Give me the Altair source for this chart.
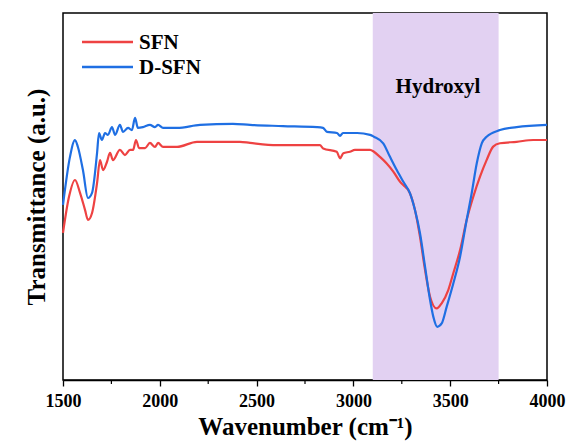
import altair as alt
import pandas as pd

# ---- data ----
series = ["SFN", "D-SFN"]
colors = ["#ee4242", "#1f6fe3"]

wn_sfn = [1500, 1531, 1562, 1588, 1614, 1629, 1650, 1676, 1691, 1707, 1727, 1743, 1758,
          1794, 1820, 1846, 1862, 1877, 1893, 1924, 1949, 1975, 1991, 2017, 2089, 2192,
          2378, 2414, 2466, 2605, 2724, 2827, 2844, 2914, 2931, 2948, 2982, 3008, 3086,
          3106, 3137, 3172, 3206, 3241, 3266, 3283, 3318, 3344, 3370, 3396, 3430, 3456,
          3490, 3516, 3551, 3585, 3619, 3654, 3688, 3722, 3757, 3843, 3929, 4000]
t_sfn = [40.1, 49.9, 54.5, 51.0, 46.3, 43.6, 45.5, 53.7, 59.9, 57.2, 59.4, 61.9, 59.9,
         62.7, 61.3, 62.7, 62.7, 65.4, 63.2, 63.2, 64.6, 63.5, 64.6, 63.5, 63.5, 64.9,
         64.9, 64.9, 64.6, 64.0, 64.0, 64.0, 63.1, 62.2, 60.4, 61.8, 62.2, 62.7, 62.7,
         62.2, 60.8, 59.0, 56.8, 54.0, 52.7, 51.8, 46.3, 39.0, 30.0, 22.7, 19.5, 20.9,
         24.5, 29.1, 35.4, 43.6, 49.9, 55.4, 59.9, 63.6, 64.5, 64.9, 65.4, 65.4]

wn_dsfn = [1500, 1536, 1562, 1577, 1603, 1629, 1650, 1676, 1686, 1701, 1717, 1732, 1753,
           1769, 1794, 1810, 1836, 1856, 1872, 1887, 1913, 1949, 1975, 1991, 2017, 2089,
           2208, 2378, 2466, 2636, 2812, 2843, 2864, 2915, 2931, 2946, 3019, 3086, 3106,
           3154, 3189, 3224, 3258, 3292, 3318, 3344, 3370, 3396, 3413, 3433, 3456, 3482,
           3516, 3551, 3585, 3611, 3637, 3663, 3688, 3757, 3843, 4000]
t_dsfn = [47.7, 60.8, 65.4, 63.5, 57.2, 49.6, 51.0, 61.9, 67.3, 65.4, 67.3, 66.8, 68.9,
          66.8, 69.5, 67.6, 68.7, 68.1, 71.4, 68.7, 68.9, 69.5, 68.9, 69.5, 68.7, 68.7,
          69.5, 69.8, 69.5, 69.2, 68.9, 68.7, 67.6, 67.3, 66.5, 67.3, 67.3, 66.8, 66.3,
          64.5, 60.8, 57.2, 54.0, 50.9, 46.3, 40.0, 30.9, 21.8, 17.2, 14.5, 15.4, 20.0,
          26.3, 33.6, 43.6, 50.9, 59.0, 64.5, 66.3, 68.1, 68.9, 69.5]

band_start = [3100]
band_end = [3750]
band_label = ["Hydroxyl"]
band_label_x = [3437]
band_label_y = [79.8]

x_domain = [1500, 4000]
y_domain = [0, 100]
major_ticks = [1500, 2000, 2500, 3000, 3500, 4000]
minor_ticks = [1750, 2250, 2750, 3250, 3750]

# ---- layout ----
W, H = 484, 367
FONT = "Liberation Serif"
LEG_X0, LEG_X1, LEG_TX = 19, 70, 76
LEG_Y0, LEG_DY = 29, 25

df = pd.concat([
    pd.DataFrame({"wn": wn_sfn, "T": t_sfn, "sample": series[0]}),
    pd.DataFrame({"wn": wn_dsfn, "T": t_dsfn, "sample": series[1]}),
])
df["order"] = range(len(df))

x_scale = alt.Scale(domain=x_domain, nice=False, zero=False)
y_scale = alt.Scale(domain=y_domain, nice=False, zero=False)
c_scale = alt.Scale(domain=series, range=colors)

x_axis = alt.Axis(
    values=major_ticks, format="d", title="Wavenumber (cm⁻¹)",
    labelFont=FONT, labelFontSize=18, labelFontWeight="bold", labelColor="black",
    titleFont=FONT, titleFontSize=25, titleFontWeight="bold", titleColor="black",
    tickSize=6, tickColor="black", tickWidth=1.3, labelPadding=6, titlePadding=4,
    domainColor="black", domainWidth=1.5, grid=False, labelFlush=False,
)
y_axis = alt.Axis(
    title="Transmittance (a.u.)", labels=False, ticks=False, domain=False, grid=False,
    titleFont=FONT, titleFontSize=25, titleFontWeight="bold", titleColor="black",
    titlePadding=14,
)

shade = alt.Chart(pd.DataFrame({"x0": band_start, "x1": band_end})).mark_rect(
    color="#e2d1f2"
).encode(
    x=alt.X("x0:Q", scale=x_scale, axis=x_axis),
    x2="x1:Q",
    y=alt.value(0),
    y2=alt.value(H),
)

lines = alt.Chart(df).mark_line(strokeWidth=2.2, interpolate="monotone").encode(
    x=alt.X("wn:Q", scale=x_scale, axis=x_axis),
    y=alt.Y("T:Q", scale=y_scale, axis=y_axis),
    color=alt.Color("sample:N", scale=c_scale, legend=None),
    detail="sample:N",
    order="order:Q",
)

minor = alt.Chart(pd.DataFrame({"m": minor_ticks})).mark_rule(
    color="black", strokeWidth=1.2
).encode(
    x=alt.X("m:Q", scale=x_scale, axis=x_axis),
    y=alt.value(H),
    y2=alt.value(H + 4),
)

label = alt.Chart(pd.DataFrame({"t": band_label, "x": band_label_x, "y": band_label_y})).mark_text(
    font=FONT, fontSize=21, fontWeight="bold", color="black", baseline="middle", align="center"
).encode(
    x=alt.X("x:Q", scale=x_scale, axis=x_axis),
    y=alt.Y("y:Q", scale=y_scale, axis=y_axis),
    text="t:N",
)

legend_layers = []
for i, name in enumerate(series):
    ldf = pd.DataFrame({"sample": [name]})
    yy = LEG_Y0 + i * LEG_DY
    legend_layers.append(
        alt.Chart(ldf).mark_rule(strokeWidth=2.5).encode(
            x=alt.value(LEG_X0), x2=alt.value(LEG_X1), y=alt.value(yy),
            color=alt.Color("sample:N", scale=c_scale, legend=None),
        )
    )
    legend_layers.append(
        alt.Chart(ldf).mark_text(
            font=FONT, fontSize=21, fontWeight="bold", color="black",
            align="left", baseline="middle", dy=1,
        ).encode(
            x=alt.value(LEG_TX), y=alt.value(yy), text="sample:N",
        )
    )

chart = alt.layer(shade, lines, minor, label, *legend_layers).properties(
    width=W, height=H,
    padding={"left": 63, "top": 13, "right": 19, "bottom": 65},
    autosize=alt.AutoSizeParams(type="none"),
    background="white",
).configure_view(stroke="black", strokeWidth=1.5)

chart.save("out.html", embed_options={"renderer": "svg", "actions": False})
